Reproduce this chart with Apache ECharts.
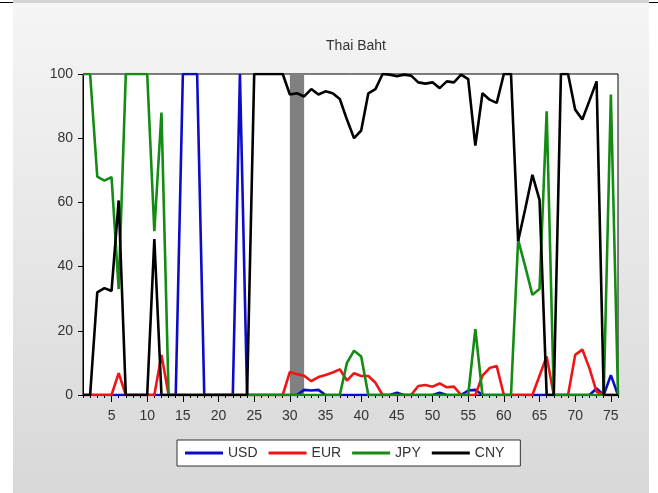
<!DOCTYPE html>
<html>
<head>
<meta charset="utf-8">
<script src="https://cdn.jsdelivr.net/npm/echarts@6/dist/echarts.min.js"></script>
<style>
html, body { margin: 0; padding: 0; background: #fff; }
#panel {
  position: absolute; left: 13px; top: 0; width: 636px; height: 493px;
  box-sizing: border-box; border-top: 3px solid #d4d4d4;
  background: linear-gradient(#f5f5f5, #d8d8d8);
}
.rule { position: absolute; top: 2px; height: 1px; background: #000; }
#chart { position: absolute; left: 0; top: 0; width: 658px; height: 493px; }
</style>
</head>
<body>
<div id="panel"></div>
<div class="rule" style="left:0;width:13px"></div>
<div class="rule" style="left:649px;width:9px"></div>
<div id="chart"></div>
<script>
// Observation numbers 1..76 on the horizontal axis
const periods = Array.from({ length: 76 }, (_, i) => String(i + 1));

// Currency weights (%) for the Thai Baht basket
const usd = [
  0, 0, 0, 0, 0, 0, 0, 0, 0, 0,
  0, 0, 0, 0, 100, 100, 100, 0, 0, 0,
  0, 0, 100, 0, 0, 0, 0, 0, 0, 0,
  0, 1.6, 1.4, 1.6, 0, 0, 0, 0, 0, 0,
  0, 0, 0, 0, 0.7, 0, 0, 0, 0, 0,
  0.7, 0, 0, 0, 1.4, 1.6, 0, 0, 0, 0,
  0, 0, 0, 0, 0, 0, 0, 0, 0, 0,
  0, 0, 2, 0, 6.2, 0
];
const eur = [
  0, 0, 0, 0, 0, 6.8, 0, 0, 0, 0,
  0, 12.5, 0, 0, 0, 0, 0, 0, 0, 0,
  0, 0, 0, 0, 0, 0, 0, 0, 0, 7.2,
  6.5, 6, 4.3, 5.6, 6.2, 7, 8, 4.5, 6.8, 5.9,
  5.9, 3.8, 0, 0, 0, 0, 0, 2.8, 3.1, 2.6,
  3.6, 2.4, 2.6, 0, 0, 0, 6, 8.4, 9, 0,
  0, 0, 0, 0, 6, 12, 0, 0, 0, 12.5,
  14.2, 8.3, 1, 0, 0, 0
];
const jpy = [
  100, 100, 68, 66.8, 67.9, 33, 100, 100, 100, 100,
  51, 88, 0, 0, 0, 0, 0, 0, 0, 0,
  0, 0, 0, 0, 0, 0, 0, 0, 0, 0,
  0, 0, 0, 0, 0, 0, 0, 10, 13.8, 12,
  0, 0, 0, 0, 0, 0, 0, 0, 0, 0,
  0, 0, 0, 0, 0, 20.5, 0, 0, 0, 0,
  0, 48.3, 40, 31.2, 33, 88.4, 0, 0, 0, 0,
  0, 0, 0, 0, 93.6, 0
];
const cny = [
  0, 0, 32, 33.3, 32.4, 60.6, 0, 0, 0, 0,
  48.6, 0, 0, 0, 0, 0, 0, 0, 0, 0,
  0, 0, 0, 0, 100, 100, 100, 100, 100, 93.6,
  94, 93, 95.3, 93.6, 94.6, 94, 92.2, 85.8, 80, 82.4,
  94, 95.3, 100, 99.8, 99.3, 99.8, 99.5, 97.4, 97, 97.4,
  95.6, 97.7, 97.4, 99.8, 98.4, 77.7, 94, 92, 91, 100,
  100, 48, 58, 68.6, 60.8, 0, 0, 100, 100, 88.9,
  85.8, 91.7, 97.7, 0, 0, 0
];

// Shaded period
const shadeFrom = '30';
const shadeTo = '32';

const seriesNames = ['USD', 'EUR', 'JPY', 'CNY'];
const seriesColors = ['#0c0cc8', '#f01414', '#148c14', '#000000'];
const seriesData = [usd, eur, jpy, cny];

const textColor = '#333';
const fontFamily = '"Liberation Sans", Arial, sans-serif';

const chart = echarts.init(document.getElementById('chart'), null, { renderer: 'canvas' });

const series = seriesNames.map((name, k) => ({
  name,
  type: 'line',
  data: seriesData[k],
  symbol: 'none',
  showSymbol: false,
  animation: false,
  color: seriesColors[k],
  lineStyle: { color: seriesColors[k], width: 2.6 },
  z: 3 + k
}));

series[0].markArea = {
  silent: true,
  itemStyle: { color: '#808080', opacity: 1 },
  data: [[{ xAxis: shadeFrom }, { xAxis: shadeTo }]]
};

chart.setOption({
  backgroundColor: 'transparent',
  animation: false,
  textStyle: { fontFamily },
  title: {
    text: 'Thai Baht',
    left: 351, top: 34, textAlign: 'center',
    textStyle: { fontSize: 14, fontWeight: 'normal', color: textColor, fontFamily }
  },
  legend: {
    data: seriesNames,
    left: 177, top: 440,
    padding: [5, 16, 5, 8],
    icon: 'rect',
    itemWidth: 38, itemHeight: 3, itemGap: 11,
    backgroundColor: '#fff',
    borderColor: '#333', borderWidth: 1,
    textStyle: { fontSize: 14, color: textColor, fontFamily, lineHeight: 16 }
  },
  grid: {
    left: 83, right: 40, top: 74, bottom: 98,
    show: true, backgroundColor: '#fff',
    borderColor: '#000', borderWidth: 1
  },
  xAxis: [
    {
      type: 'category',
      data: periods,
      boundaryGap: false,
      axisLine: { lineStyle: { color: '#000', width: 1 } },
      axisTick: { interval: 0, length: 3, lineStyle: { color: '#000' } },
      axisLabel: {
        interval: (idx, val) => Number(val) % 5 === 0,
        margin: 14, fontSize: 14, color: textColor, fontFamily
      },
      splitLine: { show: false }
    },
    {
      type: 'category',
      data: periods,
      boundaryGap: false,
      position: 'bottom',
      axisLine: { show: false },
      axisTick: {
        interval: (idx, val) => Number(val) % 5 === 0,
        length: 7, lineStyle: { color: '#000' }
      },
      axisLabel: { show: false },
      splitLine: { show: false }
    }
  ],
  yAxis: {
    type: 'value',
    min: 0, max: 100, interval: 20,
    axisLine: { show: true, lineStyle: { color: '#000' } },
    axisTick: { show: true, length: 5, lineStyle: { color: '#000' } },
    axisLabel: { margin: 10, fontSize: 14, color: textColor, fontFamily },
    splitLine: { show: false }
  },
  series
});
</script>
</body>
</html>
